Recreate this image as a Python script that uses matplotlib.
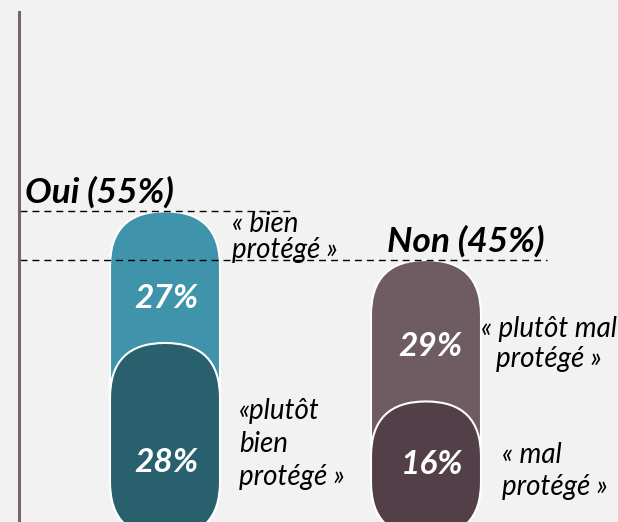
import matplotlib.pyplot as plt
from matplotlib.patches import FancyBboxPatch, BoxStyle

# données
categories = ['Oui', 'Non']
totaux = [55, 45]
bas = [28, 16]
haut = [27, 29]
titres = ['Oui (55%)', 'Non (45%)']
libelles_haut = ['« bien\nprotégé »', '« plutôt mal\nprotégé »']
libelles_bas = ['«plutôt\nbien\nprotégé »', '« mal\nprotégé »']

couleurs_haut = ['#3f93aa', '#6f5b62']
couleurs_bas = ['#29606e', '#523f47']

plt.rcParams['font.family'] = ['Lato', 'DejaVu Sans']

# échelle de la figure (pixels)
W, H = 618, 522
px_x = 261.0      # pixels par catégorie
px_y = 4.873      # pixels par point de %
x0_px = 165.0
y0_px = 508.2


def xd(px):
    return (px - x0_px) / px_x


def yd(px):
    return (y0_px - px) / px_y


fig = plt.figure(figsize=(W / 100, H / 100), dpi=100, facecolor='#f2f2f2')
ax = fig.add_axes([0, 0, 1, 1])
ax.set_facecolor('#f2f2f2')
ax.set_xlim(xd(0), xd(W))
ax.set_ylim(yd(H), yd(0))

# barres arrondies (capsules)
demi_largeur = 26.2 / px_x
pad = 28.8 / px_x
rayon = 55.0 / px_x
aspect = px_x / px_y
style = BoxStyle.Round(pad=pad, rounding_size=rayon)

for i in range(len(categories)):
    for hauteur, couleur in [(totaux[i], couleurs_haut[i]), (bas[i], couleurs_bas[i])]:
        ax.add_patch(FancyBboxPatch((i - demi_largeur, 0), 2 * demi_largeur, hauteur,
                                    boxstyle=style, mutation_aspect=aspect,
                                    facecolor=couleur, edgecolor='white', linewidth=1.5))

# lignes pointillées au sommet de chaque barre + titres
pad_y = pad * aspect
fins = [xd(293), xd(547)]
debuts_titre = [xd(25), xd(387)]
for i in range(len(categories)):
    y_ligne = totaux[i] + pad_y
    ax.plot([xd(20), fins[i]], [y_ligne] * 2, color='black',
            linewidth=1, linestyle=(0, (5, 3.6)))
    ax.text(debuts_titre[i], y_ligne + 19 / px_y, titres[i], ha='left', va='center',
            fontsize=25.5, fontweight='bold', style='italic')

# pourcentages
pos_pct = [((166, 298), (166, 463)), ((430, 346), (432, 465))]
for i in range(len(categories)):
    (xh, yh), (xb, yb) = pos_pct[i]
    ax.text(xd(xh), yd(yh), f'{haut[i]}%', ha='center', va='center', fontsize=24,
            fontweight='bold', style='italic', color='white')
    ax.text(xd(xb), yd(yb), f'{bas[i]}%', ha='center', va='center', fontsize=24,
            fontweight='bold', style='italic', color='white')

# libellés
ax.text(xd(232), yd(237), libelles_haut[0], ha='left', va='center', fontsize=20,
        style='italic', linespacing=1.02)
ax.text(xd(239), yd(444), libelles_bas[0], ha='left', va='center', fontsize=20,
        style='italic', linespacing=1.33)
ax.text(xd(549), yd(344), libelles_haut[1], ha='center', va='center', fontsize=20,
        style='italic', linespacing=1.2, multialignment='center')
ax.text(xd(502), yd(471), libelles_bas[1], ha='left', va='center', fontsize=20,
        style='italic', linespacing=1.28)

# axe vertical
for s in ['top', 'right', 'bottom']:
    ax.spines[s].set_visible(False)
ax.spines['left'].set_position(('data', xd(19)))
ax.spines['left'].set_bounds(yd(H), yd(12))
ax.spines['left'].set_color('#75656c')
ax.spines['left'].set_linewidth(2.2)
ax.set_xticks([])
ax.set_yticks([])

plt.savefig('out.png', dpi=100, facecolor=fig.get_facecolor())
